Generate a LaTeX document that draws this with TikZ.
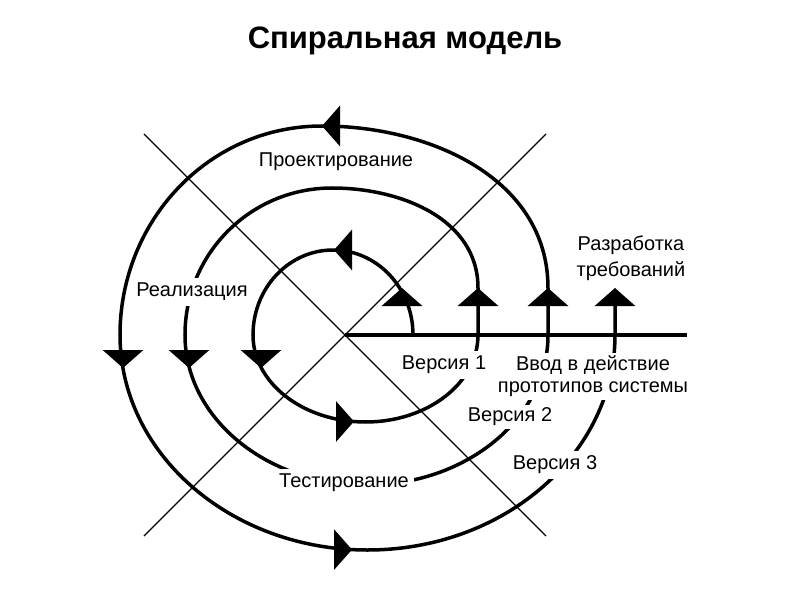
\documentclass[tikz,border=0pt]{standalone}
\usepackage{fontspec}
\setmainfont{Liberation Sans}
\usetikzlibrary{arrows.meta}

\begin{document}
\begin{tikzpicture}[
    x=1pt, y=1pt,
    every node/.style={font=\fontsize{20}{24}\selectfont},
    spiral/.style={line width=3.5pt},
    head/.style={spiral, -{Triangle[width=40pt,length=18pt]}},
    diag/.style={line width=1.1pt},
    lbl/.style={fill=white, inner sep=5pt, align=center},
]
    \useasboundingbox (-345,-265) rectangle (455,335);

    % title
    \node[font=\fontsize{31}{36}\selectfont\bfseries] (title) at (60,294) {Спиральная модель};

    % cross and axis
    \coordinate (O) at (0,0);
    \coordinate (nw) at (-201,201);
    \coordinate (ne) at (201,201);
    \coordinate (sw) at (-201,-201);
    \coordinate (se) at (201,-201);
    \coordinate (E) at (342,0);
    \draw[diag] (nw) -- (se);
    \draw[diag] (sw) -- (ne);
    \draw[line width=4pt] (O) -- (E);

    % spiral
    \draw[spiral] (68,0)
        arc[start angle=0, end angle=180, x radius=80, y radius=85]
        arc[start angle=180, end angle=360, x radius=112.5, y radius=87]
        -- ++(0,47) to[out=90,in=0] (-13,147) to[out=180,in=90] (-160,0)
        arc[start angle=180, end angle=360, x radius=181.5, y radius=150]
        -- ++(0,47) to[out=90,in=0] (-23,209) to[out=180,in=90] (-225,0)
        arc[start angle=180, end angle=360, x radius=247.5, y radius=215]
        -- ++(0,29);

    % arrow heads
    \draw[head] (57,29) -- (57,47);
    \draw[head] (133,29) -- (133,47);
    \draw[head] (203,29) -- (203,47);
    \draw[head] (270,29) -- (270,47);
    \draw[head] (7,85) -- (-11,85);
    \draw[head] (-5,209) -- (-23,209);
    \draw[head] (-84,-15) -- (-84,-33);
    \draw[head] (-156,-15) -- (-156,-33);
    \draw[head] (-222,-15) -- (-222,-33);
    \draw[head] (-9,-86.5) -- (9,-86.5);
    \draw[head] (-11,-214.6) -- (7,-214.6);

    % labels
    \node[lbl] (design) at (-9,173) {Проектирование};
    \node[lbl] (impl) at (-153,43) {Реализация};
    \node[lbl, font=\fontsize{20}{26}\selectfont] (req) at (286,77) {Разработка\\требований};
    \node[lbl] (v1) at (99,-30) {Версия 1};
    \node[lbl, inner sep=3pt, font=\fontsize{20}{22}\selectfont] (deploy) at (248,-41) {Ввод в действие\\прототипов системы};
    \node[lbl, inner sep=3pt] (v2) at (165,-82) {Версия 2};
    \node[lbl] (test) at (-1,-148) {Тестирование};
    \node[lbl] (v3) at (210,-130) {Версия 3};
\end{tikzpicture}
\end{document}
